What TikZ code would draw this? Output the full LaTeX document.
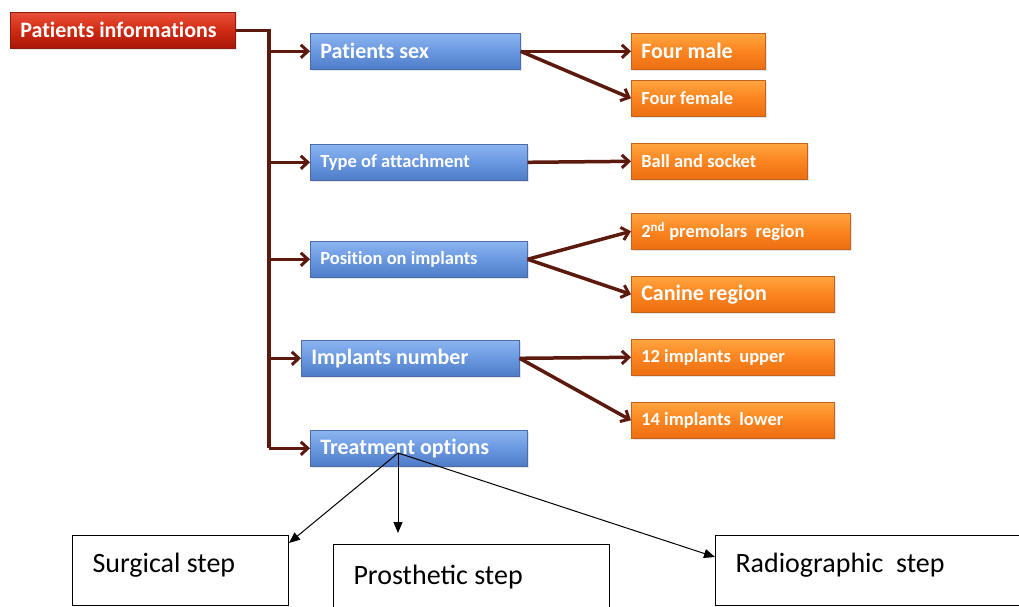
\documentclass[tikz,border=0pt]{standalone}
\usepackage{fontspec}
\setmainfont{Carlito}
\newfontfamily\boxfont{Carlito}[Ligatures={NoCommon}]
\newcommand\mybigfont{\boxfont\bfseries\fontsize{22}{24}\selectfont}
\newcommand\mysmallfont{\boxfont\bfseries\fontsize{18.5}{20}\selectfont}
\usetikzlibrary{arrows.meta,shadows}
\definecolor{brn}{HTML}{5C1A0E}
\definecolor{bluetop}{HTML}{8CB4F0}
\definecolor{bluemid}{HTML}{6A98E0}
\definecolor{bluebot}{HTML}{4D7BC6}
\definecolor{blueedge}{HTML}{4A6DAA}
\definecolor{orgtop}{HTML}{FFA640}
\definecolor{orgmid}{HTML}{FB8420}
\definecolor{orgbot}{HTML}{EC6E12}
\definecolor{orgedge}{HTML}{C4611C}
\definecolor{redtop}{HTML}{E8503A}
\definecolor{redmid}{HTML}{D02A12}
\definecolor{redbot}{HTML}{A81608}
\definecolor{rededge}{HTML}{8E1A10}
\tikzset{
  box/.style={rectangle, anchor=north west, minimum height=36pt, inner xsep=10pt, inner ysep=0pt,
    text=white, align=flush left, line width=0.6pt,
    drop shadow={shadow xshift=1.5pt, shadow yshift=-2pt, opacity=0.2}},
  bluebox/.style={box, top color=bluetop, bottom color=bluebot, middle color=bluemid, draw=blueedge},
  orgbox/.style={box, top color=orgtop, bottom color=orgbot, middle color=orgmid, draw=orgedge},
  redbox/.style={box, top color=redtop, bottom color=redbot, middle color=redmid, draw=rededge},
  big/.style={font=\mybigfont},
  small/.style={font=\mysmallfont},
  conn/.style={brn, line width=3.5pt},
  arr/.style={conn, -{Straight Barb[length=7pt,width=13pt,line width=3pt]}},
  stepbox/.style={rectangle, anchor=north west, draw=black, fill=white, line width=1pt,
    inner xsep=20pt, inner ysep=0pt, align=flush left, font=\fontsize{28}{30}\selectfont},
  thin/.style={black, line width=1pt, -{Triangle[length=11pt,width=9pt]}}
}
\begin{document}
\begin{tikzpicture}[x=1pt,y=-1pt]
\useasboundingbox (0,0) rectangle (1019,607);
% main node
\node[redbox, big, text width=205pt] (pi) at (10,12) {Patients informations};
% blue nodes
\node[bluebox, big, text width=190pt] (ps) at (310,33) {Patients sex};
\node[bluebox, small, text width=197pt] (ta) at (310,144) {Type of attachment};
\node[bluebox, small, text width=197pt] (poi) at (310,241) {Position on implants};
\node[bluebox, big, text width=198pt] (in) at (301,340) {Implants number};
\node[bluebox, big, text width=197pt] (to) at (310,430) {Treatment options};
% orange nodes
\node[orgbox, big, text width=114pt] (fm) at (631,33) {Four male};
\node[orgbox, small, text width=114pt] (ff) at (631,80) {Four female};
\node[orgbox, small, text width=156pt] (bs) at (631,143) {Ball and socket};
\node[orgbox, small, text width=199pt] (pr) at (631,213) {2\textsuperscript{nd} premolars\ \ region};
\node[orgbox, big, text width=183pt] (cr) at (631,276) {Canine region};
\node[orgbox, small, text width=183pt] (iu) at (631,339) {12 implants\ \ upper};
\node[orgbox, small, text width=183pt] (il) at (631,402) {14 implants\ \ lower};
% trunk
\coordinate (tk) at (269,0);
\draw[conn] (pi.east) -| (tk |- to.west);
\foreach \n in {ps,ta,poi,in,to} \draw[arr] (tk |- \n.west) -- (\n.west);
% orange connectors
\draw[arr] (ps.east) -- (fm.west);
\draw[arr] (ps.east) -- (ff.west);
\draw[arr] (ta.east) -- (bs.west);
\draw[arr] (poi.east) -- (pr.west);
\draw[arr] (poi.east) -- (cr.west);
\draw[arr] (in.east) -- (iu.west);
\draw[arr] (in.east) -- (il.west);
% bottom step boxes
\node[stepbox, minimum width=216pt, minimum height=70pt, text width=176pt] (sg) at (72,535)
  {\raisebox{5pt}[\height][\depth]{Surgical step}};
\node[stepbox, minimum width=276pt, minimum height=80pt, text width=236pt] (pst) at (333,544)
  {\raisebox{7pt}[\height][\depth]{Prosthetic step}};
\node[stepbox, minimum width=310pt, minimum height=70pt, text width=270pt] (rg) at (715,535)
  {\raisebox{5pt}[\height][\depth]{Radiographic\ \ step}};
% treatment connectors
\coordinate (tos) at (398,453);
\coordinate (pstop) at (398,533);
\draw[thin] (tos) -- ([yshift=-8pt]sg.north east);
\draw[thin] (tos) -- (pstop);
\draw[thin] (tos) -- ([yshift=-22pt]rg.north west);
\end{tikzpicture}
\end{document}
